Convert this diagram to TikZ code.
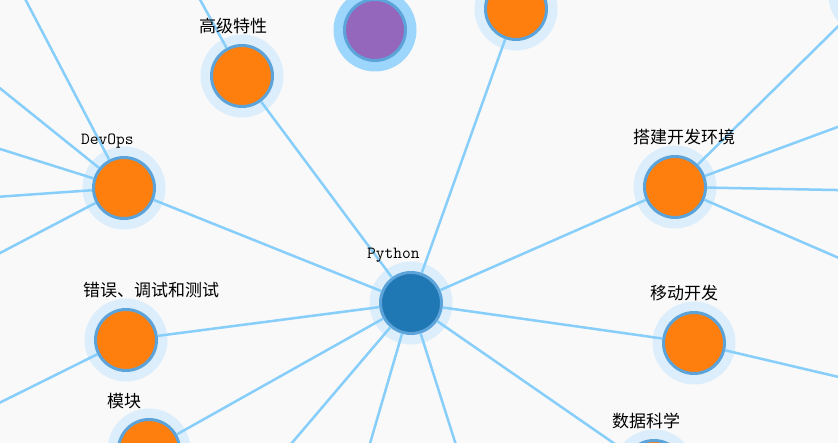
\documentclass[tikz,border=0pt]{standalone}
\usepackage{fontspec}
\newfontfamily\cjk{Noto Sans CJK SC}
\definecolor{bgc}{HTML}{F9F9F9}
\definecolor{linkc}{HTML}{87CEFA}
\definecolor{haloc}{HTML}{DCEEFB}
\definecolor{halosel}{HTML}{9CD6FC}
\definecolor{strokec}{HTML}{5BA3D9}
\definecolor{orangec}{HTML}{FF7F0E}
\definecolor{bluec}{HTML}{1F77B4}
\definecolor{purplec}{HTML}{9467BD}
\begin{document}
\begin{tikzpicture}[x=1pt,y=-1pt,
  halo/.style={fill=haloc},
  haloselected/.style={fill=halosel},
  topic/.style={circle,draw=strokec,line width=3pt,fill=orangec,minimum size=61pt,inner sep=0pt},
  rootnode/.style={topic,fill=bluec},
  selnode/.style={topic,fill=purplec},
  link/.style={draw=linkc,line width=2.5pt},
  lbl/.style={anchor=base west,inner sep=0pt,font=\fontsize{17}{20}\selectfont\cjk,text=black},
  lbltt/.style={lbl,font=\fontsize{17}{20}\selectfont\ttfamily}]
\useasboundingbox (0,0) rectangle (838,443);
\fill[bgc] (0,0) rectangle (838,443);
\begin{scope}
\clip (0,0) rectangle (838,443);
% positions
\coordinate (cP) at (411,303);
\coordinate (cA) at (242,76);
\coordinate (cU) at (375,30);
\coordinate (cT) at (516,9);
\coordinate (cR) at (870,-5);
\coordinate (cD) at (124,188);
\coordinate (cS) at (675,187);
\coordinate (cE) at (126,340);
\coordinate (cY) at (694,343);
\coordinate (cM) at (149,450);
\coordinate (cK) at (654,471);
% off-picture ends
\coordinate (d1) at (11,-28);
\coordinate (d2) at (-19,73);
\coordinate (d3) at (-19,143);
\coordinate (d4) at (-19,198);
\coordinate (d5) at (-19,263);
\coordinate (a1) at (192,-15);
\coordinate (e1) at (-19,412);
\coordinate (s2) at (862,118);
\coordinate (s3) at (862,190.5);
\coordinate (s4) at (862,268);
\coordinate (y1) at (860,382);
\coordinate (p1) at (274,464);
\coordinate (p2) at (364,464);
\coordinate (p3) at (462,464);
% halos
\foreach \c in {cP,cA,cT,cR,cD,cS,cE,cY,cM,cK}
  \fill[halo] (\c) circle[radius=41.5pt];
\fill[haloselected] (cU) circle[radius=41.5pt];
% nodes
\node[rootnode] (P) at (cP) {};
\node[topic] (A) at (cA) {};
\node[selnode] (U) at (cU) {};
\node[topic] (T) at (cT) {};
\node[topic] (R) at (cR) {};
\node[topic] (D) at (cD) {};
\node[topic] (S) at (cS) {};
\node[topic] (E) at (cE) {};
\node[topic] (Y) at (cY) {};
\node[topic] (M) at (cM) {};
\node[topic] (K) at (cK) {};
% links
\draw[link] (P) -- (A);
\draw[link] (P) -- (T);
\draw[link] (P) -- (D);
\draw[link] (P) -- (S);
\draw[link] (P) -- (E);
\draw[link] (P) -- (Y);
\draw[link] (P) -- (M);
\draw[link] (P) -- (K);
\draw[link] (P) -- (p1);
\draw[link] (P) -- (p2);
\draw[link] (P) -- (p3);
\draw[link] (A) -- (a1);
\draw[link] (D) -- (d1);
\draw[link] (D) -- (d2);
\draw[link] (D) -- (d3);
\draw[link] (D) -- (d4);
\draw[link] (D) -- (d5);
\draw[link] (E) -- (e1);
\draw[link] (S) -- (R);
\draw[link] (S) -- (s2);
\draw[link] (S) -- (s3);
\draw[link] (S) -- (s4);
\draw[link] (Y) -- (y1);
% labels
\node[lbltt] (lP) at ([xshift=-44pt,yshift=44pt]cP) {Python};
\node[lbl] (lA) at ([xshift=-43pt,yshift=43pt]cA) {高级特性};
\node[lbltt] (lD) at ([xshift=-43pt,yshift=43.5pt]cD) {DevOps};
\node[lbl] (lS) at ([xshift=-42pt,yshift=43pt]cS) {搭建开发环境};
\node[lbl] (lE) at ([xshift=-43pt,yshift=43pt]cE) {错误、调试和测试};
\node[lbl] (lY) at ([xshift=-44pt,yshift=43pt]cY) {移动开发};
\node[lbl] (lM) at ([xshift=-42pt,yshift=43pt]cM) {模块};
\node[lbl] (lK) at ([xshift=-42pt,yshift=43pt]cK) {数据科学};
\end{scope}
\end{tikzpicture}
\end{document}
